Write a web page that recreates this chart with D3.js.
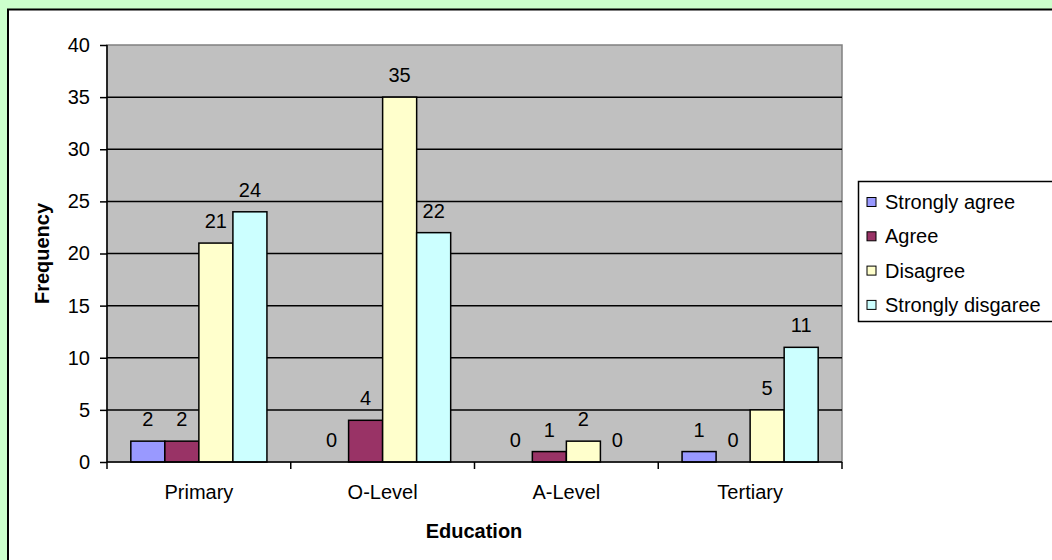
<!DOCTYPE html>
<html>
<head>
<meta charset="utf-8">
<script src="https://cdn.jsdelivr.net/npm/d3@7/dist/d3.min.js"></script>
<style>
  html, body { margin: 0; padding: 0; background: #ccffcc; }
  svg { display: block; font-family: Arial, "Liberation Sans", sans-serif; }
</style>
</head>
<body>
<svg id="chart" width="1052" height="560"></svg>
<script>
// Responses by education level
const categories = ["Primary", "O-Level", "A-Level", "Tertiary"];
const seriesNames = ["Strongly agree", "Agree", "Disagree", "Strongly disgaree"];
const stronglyAgree = [2, 0, 0, 1];
const agree = [2, 4, 1, 0];
const disagree = [21, 35, 2, 5];
const stronglyDisagree = [24, 22, 0, 11];
const yTicks = [0, 5, 10, 15, 20, 25, 30, 35, 40];
const colors = ["#9999ff", "#993366", "#ffffcc", "#ccffff"];

const seriesValues = [stronglyAgree, agree, disagree, stronglyDisagree];
const FONT = "Arial, 'Liberation Sans', sans-serif";
const FS = 20;

const svg = d3.select("#chart");
const W = 1052, H = 560;

// outer frame
svg.append("rect").attr("x", 0).attr("y", 0).attr("width", W).attr("height", H).attr("fill", "#ccffcc");
svg.append("rect").attr("x", 8).attr("y", 9.5).attr("width", W + 20).attr("height", H + 20)
  .attr("fill", "#ffffff").attr("stroke", "#000").attr("stroke-width", 2);

const plot = { left: 107, right: 842, top: 45, bottom: 462 };

const x = d3.scaleBand().domain(categories).range([plot.left, plot.right]).paddingInner(0).paddingOuter(0);
const xs = d3.scaleBand().domain(d3.range(seriesNames.length)).range([0, x.bandwidth()]).paddingOuter(0.7).paddingInner(0);
const y = d3.scaleLinear().domain([0, 40]).range([plot.bottom, plot.top]);

// plot background
svg.append("rect").attr("x", plot.left).attr("y", plot.top)
  .attr("width", plot.right - plot.left).attr("height", plot.bottom - plot.top)
  .attr("fill", "#c0c0c0").attr("stroke", "#808080").attr("stroke-width", 1.5);

// gridlines
svg.append("g").selectAll("line").data(yTicks.filter(t => t > 0 && t < 40)).join("line")
  .attr("x1", plot.left).attr("x2", plot.right)
  .attr("y1", d => y(d)).attr("y2", d => y(d))
  .attr("stroke", "#000").attr("stroke-width", 1.5);

// bars
const rows = [];
categories.forEach((c, i) => seriesValues.forEach((vals, s) => rows.push({ c, s, v: vals[i] })));

svg.append("g").selectAll("rect").data(rows.filter(d => d.v > 0)).join("rect")
  .attr("x", d => x(d.c) + xs(d.s))
  .attr("y", d => y(d.v))
  .attr("width", xs.bandwidth())
  .attr("height", d => y(0) - y(d.v))
  .attr("fill", d => colors[d.s])
  .attr("stroke", "#000").attr("stroke-width", 1.5);

// value labels
svg.append("g").selectAll("text").data(rows).join("text")
  .attr("x", d => x(d.c) + xs(d.s) + xs.bandwidth() / 2)
  .attr("y", d => y(d.v) - 15)
  .attr("text-anchor", "middle")
  .attr("font-size", FS)
  .attr("fill", "#000")
  .text(d => d.v);

// y axis
const yAxis = svg.append("g").attr("transform", `translate(${plot.left},0)`)
  .call(d3.axisLeft(y).tickValues(yTicks).tickSize(7).tickPadding(10));
yAxis.select(".domain").attr("stroke", "#000").attr("stroke-width", 1.5).attr("d", `M0,${plot.top}V${plot.bottom}`);
yAxis.selectAll(".tick line").attr("stroke", "#000").attr("stroke-width", 1.5);
yAxis.selectAll(".tick text").attr("font-size", FS).attr("fill", "#000").attr("font-family", FONT);

// x axis
const xAxis = svg.append("g").attr("transform", `translate(0,${plot.bottom})`)
  .call(d3.axisBottom(x).tickSize(0).tickPadding(23));
xAxis.select(".domain").attr("stroke", "#000").attr("stroke-width", 1.5).attr("d", `M${plot.left},0H${plot.right}`);
xAxis.selectAll(".tick text").attr("font-size", FS).attr("fill", "#000").attr("font-family", FONT);
// category boundary ticks
svg.append("g").selectAll("line").data(d3.range(categories.length + 1)).join("line")
  .attr("x1", i => plot.left + i * x.step()).attr("x2", i => plot.left + i * x.step())
  .attr("y1", plot.bottom).attr("y2", plot.bottom + 7)
  .attr("stroke", "#000").attr("stroke-width", 1.5);

// axis titles
svg.append("text").attr("x", 474).attr("y", 538)
  .attr("text-anchor", "middle").attr("font-size", FS).attr("font-weight", "bold").text("Education");
svg.append("text").attr("transform", `translate(49,${(plot.top + plot.bottom) / 2}) rotate(-90)`)
  .attr("text-anchor", "middle").attr("font-size", FS).attr("font-weight", "bold").text("Frequency");

// legend
const legend = svg.append("g");
legend.append("rect").attr("x", 858.5).attr("y", 181.5).attr("width", 220).attr("height", 140)
  .attr("fill", "#fff").attr("stroke", "#000").attr("stroke-width", 1.5);
const li = legend.selectAll("g.item").data(seriesNames).join("g").attr("class", "item")
  .attr("transform", (d, i) => `translate(0,${202 + i * 34.3})`);
li.append("rect").attr("x", 867).attr("y", -4.5).attr("width", 9).attr("height", 9)
  .attr("fill", (d, i) => colors[i]).attr("stroke", "#000").attr("stroke-width", 1);
li.append("text").attr("x", 885).attr("y", 7).attr("font-size", FS).text(d => d);
</script>
</body>
</html>
